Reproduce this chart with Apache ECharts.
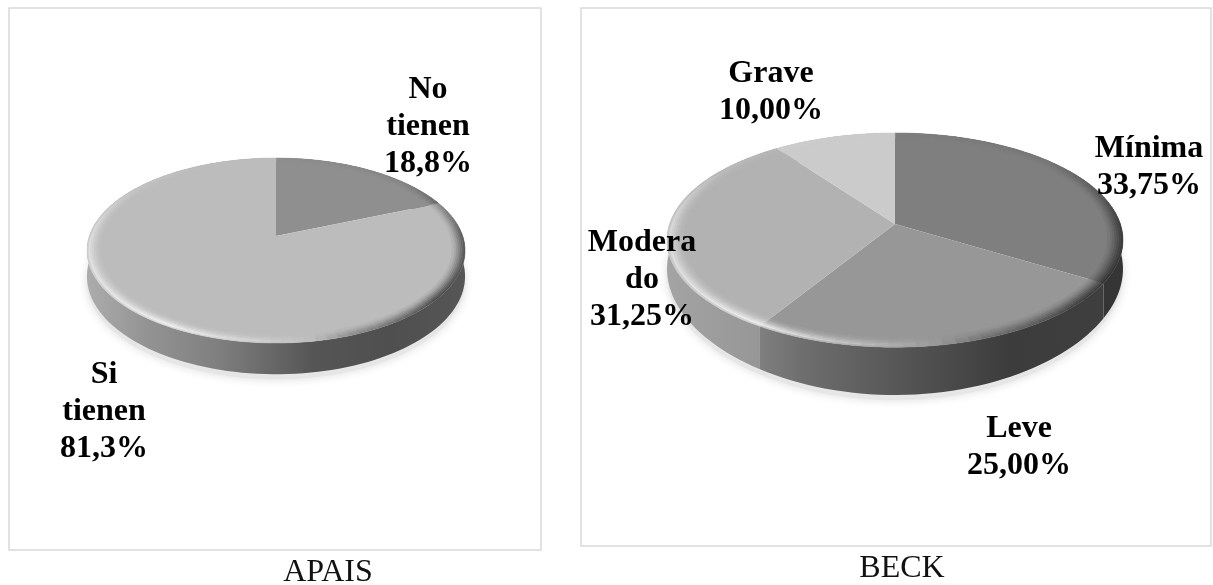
<!DOCTYPE html>
<html>
<head>
<meta charset="utf-8">
<style>html,body{margin:0;padding:0;background:#fff}#c{width:1213px;height:585px}</style>
<script src="https://cdn.jsdelivr.net/npm/echarts@6/dist/echarts.min.js"></script>
</head>
<body>
<div id="c"></div>
<script>
// ---- data ----
const apaisCategories = ['No\ntienen', 'Si\ntienen'];
const apaisValues = [18.75, 81.25];
const apaisPercents = ['18,8%', '81,3%'];
const beckCategories = ['Mínima', 'Leve', 'Modera\ndo', 'Grave'];
const beckValues = [33.75, 25, 31.25, 10];
const beckPercents = ['33,75%', '25,00%', '31,25%', '10,00%'];

// ---- layout and style ----
const apaisStyle = {
  title: 'APAIS', titleX: 328, titleY: 557,
  frame: [9, 8, 532, 542],
  cx: 276, cy: 236, a: 186.7, b: 90.2, k: 0.157, depth: 25, depthK: 0.2,
  colors: ['#8f8f8f', '#bcbcbc'],
  wallShade: [[0, 0.92], [0.16, 0.78], [0.34, 0.68], [0.6, 0.45], [0.8, 0.42], [1, 0.46]],
  labels: [[428, 126.5], [104, 411.5]]
};
const beckStyle = {
  title: 'BECK', titleX: 902, titleY: 553,
  frame: [581, 8, 630, 538],
  cx: 895, cy: 224, a: 225.4, b: 104.7, k: 0.15, depth: 27, depthK: 0.435,
  colors: ['#7f7f7f', '#979797', '#b2b2b2', '#cbcbcb'],
  wallShade: [[0, 0.92], [0.2, 0.85], [0.3, 0.73], [0.52, 0.56], [0.75, 0.4], [1, 0.42]],
  labels: [[1149, 167], [1019, 447], [642, 280], [771, 92]]
};
const FONT = '"Liberation Serif", "Times New Roman", serif';
const lightRim = [0.55, 1, 0.8, 0.58, 0.38, 0.22, 0.1];
const darkRim = [1, 0.88, 0.72, 0.55, 0.38, 0.22, 0.1];
const rimStep = 0.0095;
const lightStops = [[0, 0], [50, -0.08], [90, -0.5], [130, -0.6], [160, -0.25], [178, 0.2], [210, 0.8], [240, 0.6], [270, 0.5], [305, 0.12], [335, 0.02], [360, 0]];

function hex(c) { return [1, 3, 5].map(i => parseInt(c.substr(i, 2), 16)); }
function rgb(v) { return 'rgb(' + v.map(x => Math.round(x)).join(',') + ')'; }
function mix(c, t) {
  const v = hex(c);
  return rgb(v.map(x => t >= 0 ? x + (255 - x) * t : x * (1 + t)));
}
function shade(c, f) { return rgb(hex(c).map(x => Math.min(255, x * f))); }
function lightAt(deg) {
  for (let i = 1; i < lightStops.length; i++) {
    const p = lightStops[i - 1], q = lightStops[i];
    if (deg <= q[0]) return p[1] + (q[1] - p[1]) * (deg - p[0]) / (q[0] - p[0]);
  }
  return 0;
}
function point(g, deg, s) {
  const t = deg * Math.PI / 180, d = 1 + g.k * s * Math.cos(t);
  return [g.cx + g.a * s * Math.sin(t) / d, g.cy - g.b * s * Math.cos(t) / d];
}
function arc(g, from, to, s, scale, extra) {
  const n = Math.max(2, Math.ceil(Math.abs(to - from) / 2)), out = [];
  for (let i = 0; i <= n; i++) {
    const deg = from + (to - from) * i / n, p = point(g, deg, s);
    const wall = scale ? g.depth / (1 + g.depthK * Math.cos(deg * Math.PI / 180)) : 0;
    out.push([p[0], p[1] + wall + (extra || 0)]);
  }
  return out;
}
function pieRenderer(values, cats, percents, g) {
  const total = values.reduce((x, y) => x + y, 0);
  const left = g.cx - g.a * 1.02, right = g.cx + g.a * 1.02;
  return function (params, api) {
    const idx = params.dataIndex;
    let before = 0;
    for (let i = 0; i < idx; i++) before += values[i];
    const from = before / total * 360;
    const to = (before + api.value(0)) / total * 360;
    const base = g.colors[idx];
    const top = arc(g, from, to, 1);
    const children = [];
    // soft ground shadow
    children.push({
      type: 'polygon', z2: 0, silent: true,
      shape: { points: arc(g, from, to, 1.0, true, 5).concat(arc(g, to, from, 0.9, true)) },
      style: { fill: '#e6e6e6', shadowBlur: 10, shadowColor: '#dcdcdc' }
    });
    // side wall
    children.push({
      type: 'polygon', z2: 1, silent: true,
      shape: { points: top.concat(arc(g, to, from, 1, true)) },
      style: {
        fill: {
          type: 'linear', global: true, x: left, y: 0, x2: right, y2: 0,
          colorStops: g.wallShade.map(s => ({ offset: s[0], color: shade(base, s[1]) }))
        }
      }
    });
    // top face
    children.push({
      type: 'polygon', z2: 2, silent: true,
      shape: { points: [[g.cx, g.cy]].concat(top) },
      style: { fill: base }
    });
    // bevelled rim
    lightRim.forEach(function (lw, r) {
      const s1 = 1 - r * rimStep, s2 = s1 - rimStep;
      for (let d = from; d < to; d += 3) {
        const e = Math.min(to, d + 3), l = lightAt((d + e) / 2);
        const col = mix(base, l * (l > 0 ? lw : darkRim[r]));
        children.push({
          type: 'polygon', z2: 3, silent: true,
          shape: { points: [point(g, d, s1), point(g, e, s1), point(g, e, s2), point(g, d, s2)] },
          style: { fill: col, stroke: col, lineWidth: 0.5 }
        });
      }
    });
    // label
    children.push({
      type: 'text', z2: 6, silent: true,
      style: {
        text: cats[idx] + '\n' + percents[idx],
        x: g.labels[idx][0], y: g.labels[idx][1],
        align: 'center', verticalAlign: 'middle',
        font: 'bold 32px ' + FONT, lineHeight: 37, fill: '#000'
      }
    });
    return { type: 'group', children: children };
  };
}
function pieSeries(name, values, cats, percents, g) {
  return {
    type: 'custom', name: name, coordinateSystem: 'none', silent: true, animation: false,
    clip: false,
    data: values.map(v => [v]),
    renderItem: pieRenderer(values, cats, percents, g)
  };
}
function frame(g) {
  return {
    type: 'rect', silent: true, z: -1,
    shape: { x: g.frame[0], y: g.frame[1], width: g.frame[2], height: g.frame[3] },
    style: { fill: '#fff', stroke: '#d9d9d9', lineWidth: 1.5 }
  };
}
function title(g) {
  return {
    text: g.title, left: g.titleX, top: g.titleY, textAlign: 'center', padding: 0,
    textStyle: { fontFamily: FONT, fontSize: 32, fontWeight: 'normal', color: '#111' }
  };
}
const chart = echarts.init(document.getElementById('c'), null, { renderer: 'canvas' });
chart.setOption({
  backgroundColor: '#fff',
  animation: false,
  title: [title(apaisStyle), title(beckStyle)],
  graphic: [frame(apaisStyle), frame(beckStyle)],
  series: [
    pieSeries('APAIS', apaisValues, apaisCategories, apaisPercents, apaisStyle),
    pieSeries('BECK', beckValues, beckCategories, beckPercents, beckStyle)
  ]
});
</script>
</body>
</html>
